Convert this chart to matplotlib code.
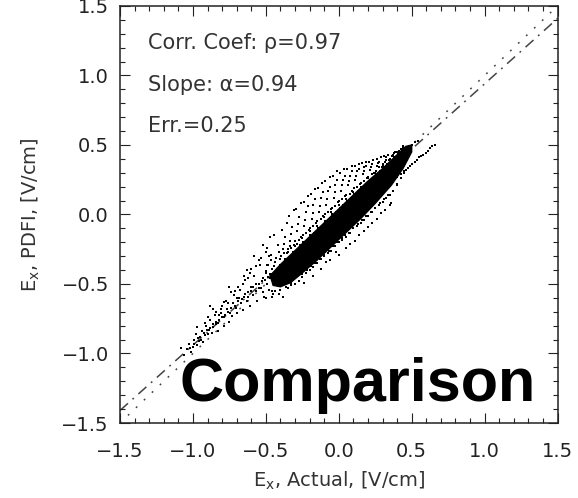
import matplotlib
matplotlib.use('Agg')
import matplotlib.pyplot as plt
from matplotlib.ticker import MultipleLocator

# Fit / guide line parameters
slope = 0.94
line_x = [-1.5, 1.5]
stats_text = ['Corr. Coef: \u03c1=0.97', 'Slope: \u03b1=0.94', 'Err.=0.25']

# Solid dense core of the cloud (outline, data units)
core_x = [-0.47, -0.40, -0.30, -0.20, -0.10, 0.00, 0.10, 0.20, 0.30, 0.40, 0.46, 0.50,
          0.50, 0.44, 0.36, 0.25, 0.15, 0.05, -0.05, -0.15, -0.25, -0.33, -0.40, -0.45]
core_y = [-0.44, -0.36, -0.26, -0.16, -0.06, 0.04, 0.14, 0.24, 0.33, 0.43, 0.49, 0.50,
          0.45, 0.33, 0.21, 0.08, -0.03, -0.13, -0.23, -0.33, -0.42, -0.49, -0.52, -0.51]

# Sparse points above the core
halo = [(-0.497, -0.41), (-0.482, -0.36), (-0.468, -0.29), (-0.491, -0.24), (-0.456, -0.39), (-0.474, -0.43), (-0.463, -0.33),
        (-0.447, -0.37), (-0.431, -0.31), (-0.418, -0.22), (-0.442, -0.15), (-0.405, -0.36), (-0.425, -0.39), (-0.413, -0.27), (-0.437, -0.34),
        (-0.396, -0.30), (-0.383, -0.25), (-0.371, -0.16), (-0.358, -0.06), (-0.389, -0.11), (-0.366, -0.32), (-0.352, -0.28), (-0.377, -0.21), (-0.361, -0.34),
        (-0.347, -0.25), (-0.336, -0.19), (-0.322, -0.09), (-0.309, 0.03), (-0.341, -0.01), (-0.316, -0.27), (-0.304, -0.22), (-0.328, -0.14), (-0.312, -0.29), (-0.333, -0.23),
        (-0.297, -0.19), (-0.285, -0.12), (-0.273, -0.02), (-0.262, 0.08), (-0.291, 0.04), (-0.268, -0.22), (-0.256, -0.16), (-0.279, -0.07), (-0.253, -0.24), (-0.283, -0.21),
        (-0.247, -0.15), (-0.236, -0.08), (-0.224, 0.02), (-0.213, 0.13), (-0.241, 0.09), (-0.218, -0.18), (-0.206, -0.11), (-0.229, -0.04), (-0.203, -0.19), (-0.244, -0.20), (-0.21, 0.06),
        (-0.198, -0.10), (-0.186, -0.03), (-0.174, 0.07), (-0.162, 0.18), (-0.192, 0.15), (-0.168, -0.13), (-0.156, -0.06), (-0.179, 0.01), (-0.153, -0.14), (-0.195, -0.15), (-0.16, 0.11),
        (-0.147, -0.05), (-0.136, 0.02), (-0.124, 0.12), (-0.112, 0.23), (-0.141, 0.19), (-0.118, -0.08), (-0.106, -0.01), (-0.129, 0.06), (-0.103, -0.09), (-0.144, -0.10), (-0.11, 0.16),
        (-0.097, 0.00), (-0.086, 0.07), (-0.074, 0.17), (-0.062, 0.27), (-0.091, 0.24), (-0.068, -0.03), (-0.056, 0.04), (-0.079, 0.11), (-0.053, -0.04), (-0.094, -0.05), (-0.06, 0.20),
        (-0.047, 0.05), (-0.036, 0.12), (-0.024, 0.21), (-0.012, 0.31), (-0.041, 0.28), (-0.018, 0.02), (-0.006, 0.09), (-0.029, 0.16), (-0.003, 0.01), (-0.044, 0.00), (-0.01, 0.25),
        (0.003, 0.10), (0.014, 0.17), (0.026, 0.25), (0.038, 0.33), (0.009, 0.30), (0.032, 0.07), (0.044, 0.13), (0.021, 0.21), (0.047, 0.06), (0.006, 0.05), (0.04, 0.28),
        (0.053, 0.14), (0.064, 0.21), (0.076, 0.28), (0.088, 0.35), (0.059, 0.33), (0.082, 0.12), (0.094, 0.17), (0.071, 0.24), (0.097, 0.11), (0.056, 0.10), (0.09, 0.31),
        (0.103, 0.19), (0.114, 0.25), (0.126, 0.31), (0.138, 0.36), (0.109, 0.35), (0.132, 0.17), (0.144, 0.22), (0.121, 0.28), (0.147, 0.16), (0.106, 0.15), (0.14, 0.33),
        (0.153, 0.23), (0.164, 0.29), (0.176, 0.34), (0.188, 0.38), (0.159, 0.37), (0.182, 0.21), (0.194, 0.26), (0.171, 0.31), (0.197, 0.22), (0.156, 0.20), (0.19, 0.35),
        (0.203, 0.27), (0.214, 0.32), (0.226, 0.36), (0.238, 0.39), (0.209, 0.38), (0.232, 0.26), (0.244, 0.30), (0.221, 0.34), (0.247, 0.27),
        (0.253, 0.31), (0.264, 0.35), (0.276, 0.38), (0.288, 0.41), (0.259, 0.40), (0.282, 0.31), (0.294, 0.34), (0.271, 0.37),
        (0.303, 0.35), (0.314, 0.38), (0.326, 0.41), (0.338, 0.43), (0.309, 0.42), (0.332, 0.36), (0.344, 0.39),
        (0.353, 0.40), (0.364, 0.42), (0.376, 0.44), (0.388, 0.45), (0.382, 0.41),
        (0.403, 0.44), (0.414, 0.46), (0.426, 0.47), (0.438, 0.48)]

# Sparse points below the core
below = [(-0.40, -0.54), (-0.36, -0.52), (-0.33, -0.49), (-0.38, -0.59), (-0.30, -0.46),
         (-0.27, -0.48), (-0.25, -0.43), (-0.22, -0.40), (-0.24, -0.49), (-0.19, -0.37),
         (-0.16, -0.35), (-0.18, -0.44), (-0.13, -0.32), (-0.10, -0.29), (-0.12, -0.39),
         (-0.07, -0.26), (-0.04, -0.23), (-0.06, -0.33), (-0.01, -0.20), (0.02, -0.17),
         (0.00, -0.29), (0.04, -0.15), (0.07, -0.13), (0.05, -0.24), (0.10, -0.10),
         (0.13, -0.07), (0.11, -0.19), (0.16, -0.04), (0.14, -0.15), (0.19, -0.01),
         (0.22, 0.02), (0.20, -0.09), (0.25, 0.05), (0.28, 0.08), (0.26, -0.03),
         (0.31, 0.11), (0.34, 0.14), (0.32, 0.03), (0.37, 0.17), (0.40, 0.21),
         (0.36, 0.08), (0.43, 0.26), (-0.52, -0.56), (-0.48, -0.54), (-0.44, -0.55),
         (-0.41, -0.57), (-0.50, -0.60), (-0.46, -0.59), (0.08, -0.21), (0.17, -0.12),
         (0.23, -0.06), (-0.02, -0.27), (-0.09, -0.34), (0.29, 0.01), (0.35, 0.07)]

# Fuzzy edges of the core
fringe = [(-0.40, -0.32), (-0.35, -0.27), (-0.30, -0.23), (-0.25, -0.17), (-0.20, -0.12),
          (-0.15, -0.08), (-0.10, -0.02), (-0.05, 0.02), (0.00, 0.07), (0.05, 0.11),
          (0.10, 0.16), (0.15, 0.20), (0.20, 0.26), (0.25, 0.30), (0.30, 0.36),
          (0.35, 0.40), (0.40, 0.45), (0.44, 0.49),
          (-0.375, -0.28), (-0.325, -0.24), (-0.275, -0.18), (-0.225, -0.13), (-0.175, -0.08),
          (-0.125, -0.03), (-0.075, 0.02), (-0.025, 0.06), (0.025, 0.11), (0.075, 0.15),
          (0.125, 0.20), (0.175, 0.24), (0.225, 0.29), (0.275, 0.34), (0.325, 0.39), (0.375, 0.43),
          (-0.35, -0.53), (-0.30, -0.50), (-0.25, -0.45), (-0.20, -0.40), (-0.15, -0.35),
          (-0.10, -0.30), (-0.05, -0.26), (0.00, -0.20), (0.05, -0.16), (0.10, -0.10),
          (0.15, -0.06), (0.20, -0.01), (0.25, 0.05), (0.30, 0.09), (0.35, 0.14),
          (0.40, 0.22), (0.45, 0.31), (-0.325, -0.51), (-0.275, -0.48), (-0.225, -0.42),
          (-0.175, -0.38), (-0.125, -0.32), (-0.075, -0.28), (-0.025, -0.23), (0.025, -0.18),
          (0.075, -0.13), (0.125, -0.08), (0.175, -0.04), (0.225, 0.02), (0.275, 0.07),
          (0.325, 0.12), (0.375, 0.17)]

# Thin streak to the right of the core top
streak = [(0.40, 0.27), (0.43, 0.29), (0.46, 0.32), (0.49, 0.35), (0.52, 0.38), (0.55, 0.41),
          (0.58, 0.43), (0.61, 0.46), (0.64, 0.49), (0.445, 0.30), (0.475, 0.335), (0.505, 0.36),
          (0.535, 0.395), (0.565, 0.42), (0.595, 0.445), (0.625, 0.475), (0.66, 0.50),
          (0.50, 0.50), (0.52, 0.52), (0.54, 0.53)]

# Lower-left tail
tail = [(-1.08, -0.96), (-1.06, -1.01), (-1.04, -0.97), (-1.03, -0.93), (-1.01, -0.99),
        (-1.00, -0.95), (-0.99, -0.90), (-0.98, -0.86), (-0.97, -0.81), (-0.97, -0.94),
        (-0.96, -0.91), (-0.95, -0.88), (-0.94, -0.84), (-0.93, -0.92), (-0.92, -0.87),
        (-0.91, -0.80), (-0.90, -0.86), (-0.89, -0.83), (-0.88, -0.66), (-0.88, -0.76),
        (-0.87, -0.85), (-0.86, -0.81), (-0.85, -0.72), (-0.84, -0.79), (-0.83, -0.84),
        (-0.82, -0.76), (-0.81, -0.68), (-0.80, -0.74), (-0.79, -0.80), (-0.78, -0.72),
        (-0.77, -0.62), (-0.76, -0.70), (-0.75, -0.52), (-0.75, -0.77), (-0.74, -0.67),
        (-0.73, -0.73), (-0.72, -0.58), (-0.71, -0.66), (-0.70, -0.71), (-0.69, -0.62),
        (-0.68, -0.54), (-0.67, -0.64), (-0.66, -0.69), (-0.65, -0.59), (-0.64, -0.47),
        (-0.63, -0.40), (-0.63, -0.62), (-0.62, -0.56), (-0.61, -0.66), (-0.60, -0.52),
        (-0.59, -0.58), (-0.58, -0.44), (-0.57, -0.55), (-0.56, -0.62), (-0.55, -0.50),
        (-0.54, -0.36), (-0.53, -0.53), (-0.52, -0.46), (-0.51, -0.59), (-0.50, -0.42),
        (-0.49, -0.50), (-0.48, -0.30), (-0.47, -0.16), (-0.47, -0.46), (-0.46, -0.55),
        (-0.45, -0.57), (-0.44, -0.44), (-0.43, -0.50), (-0.50, -0.27), (-0.55, -0.33),
        (-0.60, -0.39), (-0.66, -0.50), (-0.71, -0.55), (-0.79, -0.63), (-0.84, -0.70),
        (-0.92, -0.78), (-0.58, -0.30), (-0.52, -0.22), (-0.62, -0.46), (-0.70, -0.60),
        (-0.76, -0.64), (-0.82, -0.72),
        (-1.02, -0.96), (-0.99, -0.93), (-0.965, -0.89), (-0.945, -0.90), (-0.925, -0.85),
        (-0.905, -0.83), (-0.885, -0.82), (-0.865, -0.79), (-0.845, -0.77), (-0.825, -0.78),
        (-0.805, -0.71), (-0.785, -0.74), (-0.765, -0.68), (-0.745, -0.71), (-0.725, -0.64),
        (-0.705, -0.67), (-0.685, -0.60), (-0.665, -0.61), (-0.645, -0.57), (-0.625, -0.59),
        (-0.605, -0.55), (-0.585, -0.52), (-0.565, -0.50), (-0.545, -0.53), (-0.525, -0.48),
        (-0.505, -0.47), (-0.485, -0.45), (-0.465, -0.43), (-0.90, -0.74), (-0.86, -0.68),
        (-0.80, -0.66), (-0.74, -0.56), (-0.69, -0.52), (-0.65, -0.44), (-0.61, -0.42),
        (-0.57, -0.37), (-0.53, -0.31), (-0.49, -0.36)]

fig = plt.figure(figsize=(5.78, 4.98), dpi=100)
ax = fig.add_axes([0.2076, 0.1506, 0.757, 0.8374])

# guide lines sit underneath the cloud
ax.plot(line_x, line_x, color='#444444', linewidth=1.1, linestyle=(0, (1.2, 6)), zorder=1)
ax.plot(line_x, [slope * v for v in line_x], color='#444444', linewidth=1.1,
        linestyle=(0, (7, 4, 1.2, 4)), zorder=1)

ax.fill(core_x, core_y, color='black', linewidth=1.0, zorder=2)
for pts in (halo, below, fringe, streak, tail):
    xs = [p[0] for p in pts]
    ys = [p[1] for p in pts]
    ax.scatter(xs, ys, s=2.2, color='black', marker='s', linewidths=0, zorder=2)

for i, t in enumerate(stats_text):
    ax.text(0.063, 0.911 - i * 0.1, t, transform=ax.transAxes, fontsize=15,
            color='#333333', va='center', ha='left')

ax.text(0.137, 0.053, 'Comparison', transform=ax.transAxes, fontsize=44,
        fontweight='bold', family='Liberation Sans', color='black', va='baseline', ha='left')

ax.set_xlim(-1.5, 1.5)
ax.set_ylim(-1.5, 1.5)
ax.xaxis.set_major_locator(MultipleLocator(0.5))
ax.yaxis.set_major_locator(MultipleLocator(0.5))
ax.xaxis.set_minor_locator(MultipleLocator(0.1))
ax.yaxis.set_minor_locator(MultipleLocator(0.1))
ax.tick_params(which='both', direction='in', top=True, right=True, colors='#222222',
               labelsize=14)
ax.tick_params(which='major', length=7, width=0.8)
ax.tick_params(which='minor', length=3.5, width=0.8)
ax.tick_params(axis='x', pad=14)
ax.tick_params(axis='y', pad=8)
for sp in ax.spines.values():
    sp.set_linewidth(1.1)
    sp.set_color('#222222')

ax.set_xlabel(r'E$_\mathregular{x}$, Actual, [V/cm]', fontsize=14, color='#333333', labelpad=6)
ax.set_ylabel(r'E$_\mathregular{x}$, PDFI, [V/cm]', fontsize=14, color='#333333', labelpad=14)

fig.savefig('out.png', dpi=100)
